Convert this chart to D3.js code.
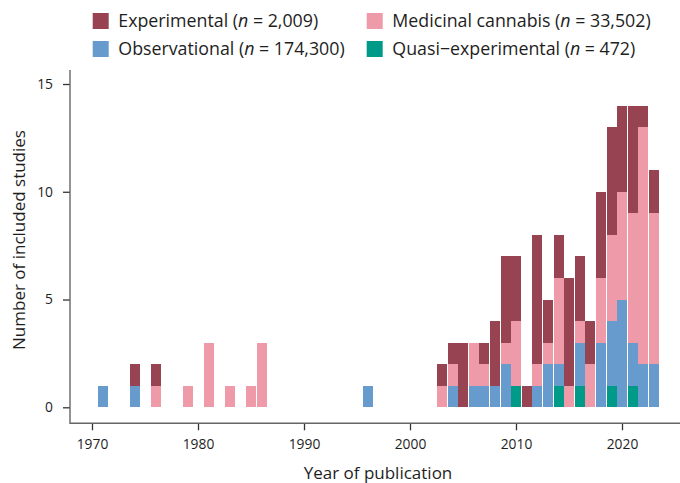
<!DOCTYPE html>
<html>
<head>
<meta charset="utf-8">
<script src="https://cdn.jsdelivr.net/npm/d3@7"></script>
<style>
  html, body { margin: 0; padding: 0; background: #fff; }
  svg { display: block; }
  text { font-family: "Open Sans", "Liberation Sans", sans-serif; fill: #1e1e1e; }
</style>
</head>
<body>
<svg id="chart" width="680" height="483"></svg>
<script>
// Studies per publication year, split by design
const years        = [1971, 1974, 1976, 1979, 1981, 1983, 1985, 1986, 1996,
                      2003, 2004, 2005, 2006, 2007, 2008, 2009, 2010, 2011, 2012, 2013,
                      2014, 2015, 2016, 2017, 2018, 2019, 2020, 2021, 2022, 2023];
const quasi        = [0, 0, 0, 0, 0, 0, 0, 0, 0,
                      0, 0, 0, 0, 0, 0, 0, 1, 0, 0, 0,
                      1, 0, 1, 0, 0, 1, 0, 1, 0, 0];
const observational= [1, 1, 0, 0, 0, 0, 0, 0, 1,
                      0, 1, 0, 1, 1, 1, 2, 0, 0, 1, 2,
                      1, 0, 2, 0, 3, 3, 5, 2, 2, 2];
const medicinal    = [0, 0, 1, 1, 3, 1, 1, 3, 0,
                      1, 1, 0, 2, 1, 0, 1, 3, 0, 1, 1,
                      4, 1, 1, 2, 3, 4, 5, 6, 11, 7];
const experimental = [0, 1, 1, 0, 0, 0, 0, 0, 0,
                      1, 1, 3, 0, 1, 3, 4, 3, 1, 6, 2,
                      2, 5, 3, 2, 4, 5, 4, 5, 1, 2];

const seriesKeys   = ["quasi", "observational", "medicinal", "experimental"];
const seriesColors = ["#009a88", "#679bcd", "#ee9aa8", "#974352"];
const xTicks = [1970, 1980, 1990, 2000, 2010, 2020];
const yTicks = [0, 5, 10, 15];

// Legend entries: label, sample size, colour index
const legendLabels = ["Experimental", "Observational", "Medicinal cannabis", "Quasi\u2212experimental"];
const legendN      = ["2,009", "174,300", "33,502", "472"];
const legendColor  = [3, 1, 2, 0];

const rows = years.map((yr, i) => ({
  year: yr,
  quasi: quasi[i],
  observational: observational[i],
  medicinal: medicinal[i],
  experimental: experimental[i]
}));

const svg = d3.select("#chart");

const x = d3.scaleLinear().domain([1970, 2020]).range([92, 622]);
const y = d3.scaleLinear().domain([0, 15]).range([407.3, 84]);

const stack = d3.stack().keys(seriesKeys);
const layers = stack(rows);

const barW = 10;
svg.append("g")
  .selectAll("g")
  .data(layers)
  .join("g")
  .attr("fill", (d, i) => seriesColors[i])
  .selectAll("rect")
  .data(d => d.filter(s => s[1] > s[0]))
  .join("rect")
  .attr("shape-rendering", "crispEdges")
  .attr("x", d => Math.round(x(d.data.year) - 4.8))
  .attr("width", barW)
  .attr("y", d => y(d[1]))
  .attr("height", d => y(d[0]) - y(d[1]));

const axisColor = "#666";

// x axis
const gx = svg.append("g")
  .attr("transform", "translate(0,423.3)")
  .call(d3.axisBottom(x).tickValues(xTicks).tickFormat(d3.format("d"))
        .tickSize(7).tickPadding(9).tickSizeOuter(0));
gx.select(".domain").remove();
gx.append("line")
  .attr("x1", 70).attr("x2", 680).attr("y1", 0).attr("y2", 0)
  .attr("stroke", axisColor).attr("stroke-width", 1.4);
gx.selectAll(".tick line").attr("stroke", "#333").attr("stroke-width", 1.3);
gx.selectAll(".tick text").style("font-size", "13.8px").attr("fill", "#1e1e1e");

// y axis
const gy = svg.append("g")
  .attr("transform", "translate(70,0)")
  .call(d3.axisLeft(y).tickValues(yTicks).tickSize(7).tickPadding(10).tickSizeOuter(0));
gy.select(".domain").remove();
gy.append("line")
  .attr("x1", 0).attr("x2", 0).attr("y1", 70).attr("y2", 424)
  .attr("stroke", axisColor).attr("stroke-width", 1.4);
gy.selectAll(".tick line").attr("stroke", "#333").attr("stroke-width", 1.3);
gy.selectAll(".tick text").style("font-size", "13.8px").attr("fill", "#1e1e1e");

// axis titles
svg.append("text")
  .attr("x", 378).attr("y", 479)
  .attr("text-anchor", "middle")
  .style("font-size", "17px")
  .text("Year of publication");

svg.append("text")
  .attr("transform", "translate(25,240) rotate(-90)")
  .attr("text-anchor", "middle")
  .style("font-size", "17px")
  .text("Number of included studies");

// legend
const legendPos = [[92.7, 13], [92.7, 41], [366.7, 13], [366.7, 41]];
const lg = svg.append("g");
legendLabels.forEach((lab, i) => {
  const [lx, ly] = legendPos[i];
  lg.append("rect")
    .attr("x", lx).attr("y", ly).attr("width", 16).attr("height", 16)
    .attr("fill", seriesColors[legendColor[i]]);
  const t = lg.append("text")
    .attr("x", lx + 25.6).attr("y", ly + 14.2)
    .style("font-size", "17.8px");
  t.append("tspan").text(lab + " (");
  t.append("tspan").style("font-style", "italic").text("n");
  t.append("tspan").text(" = " + legendN[i] + ")");
});
</script>
</body>
</html>
